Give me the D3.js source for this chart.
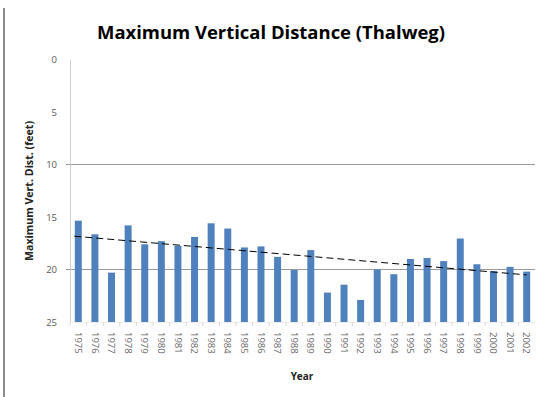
<!DOCTYPE html>
<html><head><meta charset="utf-8">
<script src="https://cdn.jsdelivr.net/npm/d3@7"></script>
<style>body{margin:0;background:#fff}svg{display:block}</style>
</head><body>
<script>
const years = ["1975","1976","1977","1978","1979","1980","1981","1982","1983","1984","1985","1986","1987","1988","1989","1990","1991","1992","1993","1994","1995","1996","1997","1998","1999","2000","2001","2002"];
const values = [15.35,16.65,20.3,15.8,17.6,17.3,17.75,16.9,15.6,16.1,17.9,17.8,18.8,20.05,18.15,22.2,21.45,22.9,20.0,20.45,19.0,18.9,19.2,17.05,19.5,20.15,19.75,20.2];
const yTicks = [0,5,10,15,20,25];
const gridTicks = [10,20];

const W = 540, H = 397;
const svg = d3.select("body").append("svg").attr("width", W).attr("height", H);

// outer border line on left
svg.append("line").attr("x1",4).attr("x2",4).attr("y1",8).attr("y2",H).attr("stroke","#8c8c8c").attr("stroke-width",2);

const x = d3.scaleBand().domain(years).range([70,535]).paddingInner(0.58).paddingOuter(0.29);
const y = d3.scaleLinear().domain([0,25]).range([59.5,322]);

// gridlines
svg.append("g").selectAll("line").data(gridTicks).join("line")
  .attr("x1",66).attr("x2",535).attr("y1",d=>y(d)).attr("y2",d=>y(d))
  .attr("stroke","#9a9a9a").attr("stroke-width",1.2);

// y axis
const yAxis = d3.axisLeft(y).tickValues(yTicks).tickSize(0).tickPadding(13);
const gy = svg.append("g").attr("transform","translate(70,0)").call(yAxis);
gy.select(".domain").attr("stroke","#d0d0d0");
gy.selectAll("text").attr("fill","#595959").style("font-family","Open Sans, Liberation Sans, sans-serif").style("font-size","9.5px");

// x axis
const xAxis = d3.axisBottom(x).tickSize(0).tickPadding(10);
const gx = svg.append("g").attr("transform","translate(0,322)").call(xAxis);
gx.select(".domain").attr("stroke","#eeeeee");
gx.selectAll("text")
  .attr("transform","rotate(90)").attr("text-anchor","start").attr("dy","0.35em").attr("x",10).attr("y",0)
  .attr("fill","#6a6a6a").style("font-family","Open Sans, Liberation Sans, sans-serif").style("font-size","9.5px");
// minor category boundary ticks
const step = x.step();
svg.append("g").selectAll("line").data(years).join("line")
  .attr("x1",d=>x(d)-x.paddingInner()*step/2).attr("x2",d=>x(d)-x.paddingInner()*step/2)
  .attr("y1",322).attr("y2",326).attr("stroke","#d9d9d9");

// bars (from the bottom of reversed axis up to the value)
svg.append("g").selectAll("rect").data(years).join("rect")
  .attr("x",d=>x(d)).attr("width",x.bandwidth())
  .attr("y",(d,i)=>y(values[i])).attr("height",(d,i)=>y(25)-y(values[i]))
  .attr("fill","#4f81bd");

// linear trendline
const n = values.length;
const xs = d3.range(n);
const mx = d3.mean(xs), my = d3.mean(values);
const slope = d3.sum(xs,(v,i)=>(v-mx)*(values[i]-my))/d3.sum(xs,v=>(v-mx)*(v-mx));
const icpt = my - slope*mx;
svg.append("line")
  .attr("x1",x(years[0])+x.bandwidth()/2-4).attr("y1",y(icpt))
  .attr("x2",x(years[n-1])+x.bandwidth()/2).attr("y2",y(icpt+slope*(n-1)))
  .attr("stroke","#000").attr("stroke-width",1).attr("stroke-dasharray","7,4");

// title
svg.append("text").attr("x",271).attr("y",39).attr("text-anchor","middle")
  .style("font-family","Open Sans, Liberation Sans, sans-serif").style("font-weight","bold").style("font-size","17px")
  .attr("textLength",348).attr("lengthAdjust","spacingAndGlyphs").attr("fill","#000")
  .text("Maximum Vertical Distance (Thalweg)");

// axis titles
svg.append("text").attr("transform","translate(33,191) rotate(-90)").attr("text-anchor","middle")
  .style("font-family","Open Sans, Liberation Sans, sans-serif").style("font-weight","bold").style("font-size","10px")
  .attr("textLength",140).attr("lengthAdjust","spacingAndGlyphs")
  .attr("fill","#222").text("Maximum Vert. Dist. (feet)");
svg.append("text").attr("x",302).attr("y",380).attr("text-anchor","middle")
  .style("font-family","Open Sans, Liberation Sans, sans-serif").style("font-weight","bold").style("font-size","10px")
  .attr("fill","#222").text("Year");
</script>
</body></html>
